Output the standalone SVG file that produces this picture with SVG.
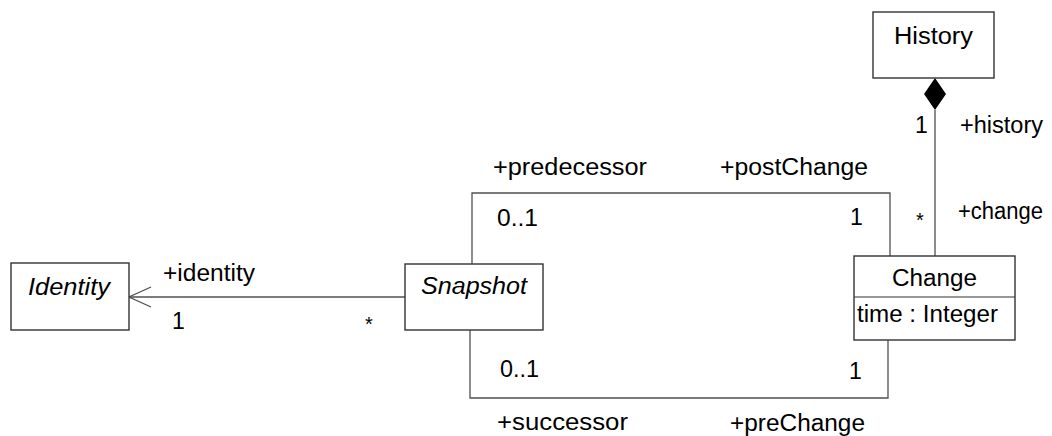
<svg xmlns="http://www.w3.org/2000/svg" width="1052" height="436" viewBox="0 0 1052 436">
  <style>
    .box { fill: #ffffff; stroke: #333333; stroke-width: 1.4; }
    .sep { stroke: #333333; stroke-width: 1.2; }
    .edge { fill: none; stroke: #505050; stroke-width: 1.3; }
    text { font-family: "Liberation Sans", Arial, Helvetica, sans-serif; font-size: 23px; fill: #000000; }
    .it { font-style: italic; }
    .star { font-size: 20px; }
  </style>

  <!-- connectors -->
  <g id="connectors">
    <!-- History <>— Change (composition) -->
    <path class="edge" d="M935 110 L935 256"/>
    <path d="M935 78 L946 94 L935 110 L924 94 Z" fill="#000000"/>
    <!-- Snapshot -> Identity (navigable) -->
    <path class="edge" d="M405 297 L129 297"/>
    <path class="edge" d="M151 287 L129 297 L151 307"/>
    <!-- predecessor / postChange -->
    <path class="edge" d="M472 264 L472 193 L890 193 L890 256"/>
    <!-- successor / preChange -->
    <path class="edge" d="M470 330 L470 398 L888 398 L888 340"/>
  </g>

  <!-- nodes -->
  <g id="History">
    <rect class="box" x="873" y="12" width="121" height="66"/>
    <text x="933.5" y="44" text-anchor="middle" textLength="79" lengthAdjust="spacingAndGlyphs">History</text>
  </g>

  <g id="Change">
    <rect class="box" x="854" y="256" width="161" height="84"/>
    <line class="sep" x1="854" y1="297" x2="1015" y2="297"/>
    <text x="934.5" y="286" text-anchor="middle" textLength="85" lengthAdjust="spacingAndGlyphs">Change</text>
    <text x="857" y="322" textLength="141" lengthAdjust="spacingAndGlyphs">time : Integer</text>
  </g>

  <g id="Identity">
    <rect class="box" x="11" y="263" width="118" height="67"/>
    <text class="it" x="28" y="295" textLength="82" lengthAdjust="spacingAndGlyphs">Identity</text>
  </g>

  <g id="Snapshot">
    <rect class="box" x="405" y="264" width="138" height="66"/>
    <text class="it" x="421" y="294" textLength="106" lengthAdjust="spacingAndGlyphs">Snapshot</text>
  </g>

  <!-- association end labels -->
  <g id="labels">
    <text x="915" y="133">1</text>
    <text x="960" y="133" textLength="83" lengthAdjust="spacingAndGlyphs">+history</text>
    <text class="star" x="916" y="227">*</text>
    <text x="958" y="219" textLength="85" lengthAdjust="spacingAndGlyphs">+change</text>

    <text x="493" y="175" textLength="154" lengthAdjust="spacingAndGlyphs">+predecessor</text>
    <text x="720" y="175" textLength="148" lengthAdjust="spacingAndGlyphs">+postChange</text>
    <text x="497" y="226" textLength="41" lengthAdjust="spacingAndGlyphs">0..1</text>
    <text x="850" y="225">1</text>

    <text x="500" y="377" textLength="39" lengthAdjust="spacingAndGlyphs">0..1</text>
    <text x="849" y="379">1</text>
    <text x="497" y="430" textLength="131" lengthAdjust="spacingAndGlyphs">+successor</text>
    <text x="730" y="431" textLength="135" lengthAdjust="spacingAndGlyphs">+preChange</text>

    <text x="163" y="281" textLength="92" lengthAdjust="spacingAndGlyphs">+identity</text>
    <text x="172" y="329">1</text>
    <text class="star" x="365" y="331">*</text>
  </g>
</svg>
